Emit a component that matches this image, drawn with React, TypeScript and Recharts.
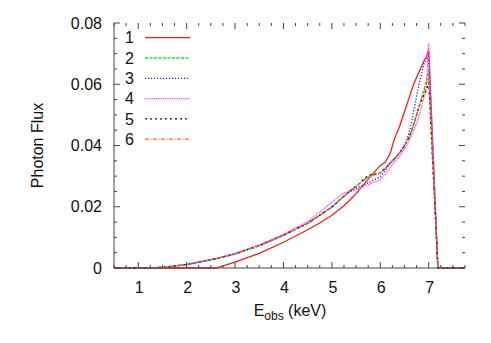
import React from "react";
import { LineChart, Line, XAxis, YAxis } from "recharts";

// photon energy (keV) and flux for six models
const energy = [0.5, 1.0, 1.5, 2.0, 2.5, 2.6, 3.0, 3.5, 4.0, 4.5, 4.75, 5.0, 5.25, 5.375, 5.5, 5.75, 6.0, 6.1, 6.2, 6.3, 6.4, 6.5, 6.6, 6.7, 6.8, 6.9, 6.95, 7.0, 7.19, 7.75];
const flux1 = [0, 0, 0, 0, 0, 0, 0.0019, 0.0048, 0.0084, 0.0125, 0.0147, 0.0172, 0.0203, 0.0222, 0.0243, 0.029, 0.0335, 0.0345, 0.0372, 0.0425, 0.0463, 0.051, 0.0558, 0.0605, 0.064, 0.0675, 0.069, 0.071, 0, 0];
const flux2 = [0, 0, 0.0002, 0.0011, 0.0027, 0.003, 0.0046, 0.0073, 0.0107, 0.0146, 0.0172, 0.0199, 0.0235, 0.0252, 0.0267, 0.0298, 0.031, 0.0325, 0.0342, 0.0358, 0.0376, 0.0399, 0.0428, 0.0473, 0.0527, 0.0582, 0.061, 0.0647, 0, 0];
const flux3 = [0, 0, 0.0002, 0.0011, 0.0027, 0.003, 0.0046, 0.0073, 0.0107, 0.0146, 0.0172, 0.0199, 0.0233, 0.0249, 0.026, 0.0278, 0.0298, 0.0318, 0.034, 0.0358, 0.0377, 0.0402, 0.0443, 0.052, 0.06, 0.0665, 0.068, 0.0695, 0, 0];
const flux4 = [0, 0, 0.0002, 0.0012, 0.0028, 0.0031, 0.0048, 0.0076, 0.011, 0.0152, 0.0182, 0.0215, 0.0245, 0.0252, 0.0256, 0.0272, 0.0288, 0.0305, 0.0327, 0.0347, 0.0366, 0.039, 0.0417, 0.0452, 0.0495, 0.0555, 0.059, 0.0735, 0, 0];
const flux5 = [0, 0, 0.0002, 0.0011, 0.0027, 0.003, 0.0046, 0.0073, 0.0107, 0.0146, 0.0172, 0.0199, 0.0235, 0.0252, 0.0267, 0.0303, 0.031, 0.0325, 0.0342, 0.0358, 0.0376, 0.0399, 0.0428, 0.0473, 0.0527, 0.0565, 0.058, 0.0605, 0, 0];
const flux6 = [0, 0, 0.0002, 0.0011, 0.0027, 0.003, 0.0046, 0.0073, 0.0107, 0.0146, 0.0172, 0.0199, 0.0235, 0.0252, 0.0267, 0.0298, 0.031, 0.0325, 0.0342, 0.0358, 0.0376, 0.0399, 0.0428, 0.0473, 0.0527, 0.0575, 0.06, 0.0635, 0, 0];

const seriesNames = ["1", "2", "3", "4", "5", "6"];
const xMajorTicks = [1, 2, 3, 4, 5, 6, 7];
const yMajorTicks = [0, 0.02, 0.04, 0.06, 0.08];

const styles = [
  { color: "#ff1a1a", dash: undefined, width: 1.3 },
  { color: "#22dd22", dash: "3 1.5", width: 1.4 },
  { color: "#1a1aff", dash: "1.2 1.8", width: 1.3 },
  { color: "#ff33ff", dash: "1 0.8", width: 1.3 },
  { color: "#111111", dash: "2 3", width: 1.3 },
  { color: "#f26a2e", dash: "4 1.5 1 1.5", width: 1.3 },
];

const allFlux = [flux1, flux2, flux3, flux4, flux5, flux6];
const data = energy.map((e, i) => {
  const row: Record<string, number> = { e };
  seriesNames.forEach((n, k) => (row["s" + n] = allFlux[k][i]));
  return row;
});

const W = 491;
const H = 343;
const M = { top: 23, right: 26, left: 0, bottom: 0 };
const Y_AXIS_W = 114;
const X_AXIS_H = 75;
const PLOT_W = W - M.right - Y_AXIS_W;
const PLOT_H = H - M.top - X_AXIS_H;

const FONT = "'Liberation Sans', Arial, Helvetica, sans-serif";
const AXIS = "#444";

const xTicks = Array.from({ length: 30 }, (_, i) => 0.5 + i * 0.25);
const yTicks = Array.from({ length: 17 }, (_, i) => Number((i * 0.005).toFixed(3)));

const isMajor = (v: number, list: number[]) => list.some((t) => Math.abs(t - v) < 1e-9);

function XTick(props: any) {
  const { x, y, payload } = props;
  const major = isMajor(payload.value, xMajorTicks);
  const len = major ? 6 : 3;
  return (
    <g>
      <line x1={x} y1={y} x2={x} y2={y - len} stroke={AXIS} />
      <line x1={x} y1={y - PLOT_H} x2={x} y2={y - PLOT_H + len} stroke={AXIS} />
      {major && (
        <text x={x + 1} y={y + 24.5} textAnchor="middle" fontSize={16} fontFamily={FONT} fill="#111">
          {payload.value}
        </text>
      )}
    </g>
  );
}

function YTick(props: any) {
  const { x, y, payload } = props;
  const major = isMajor(payload.value, yMajorTicks);
  const len = major ? 6 : 3;
  return (
    <g>
      <line x1={x} y1={y} x2={x + len} y2={y} stroke={AXIS} />
      <line x1={x + PLOT_W} y1={y} x2={x + PLOT_W - len} y2={y} stroke={AXIS} />
      {major && (
        <text x={x - 12} y={y + 5.7} textAnchor="end" fontSize={16} fontFamily={FONT} fill="#111">
          {payload.value === 0 ? "0" : payload.value.toFixed(2)}
        </text>
      )}
    </g>
  );
}

function Overlay() {
  const rowY = (i: number) => 37.7 + i * 20.3;
  return (
    <svg width={W} height={H} style={{ position: "absolute", left: 0, top: 0, pointerEvents: "none" }}>
      {seriesNames.map((n, i) => (
        <g key={n}>
          <text x={134} y={rowY(i) + 5.7} textAnchor="end" fontSize={16} fontFamily={FONT} fill="#111">
            {n}
          </text>
          <line
            x1={145}
            x2={190}
            y1={rowY(i)}
            y2={rowY(i)}
            stroke={styles[i].color}
            strokeWidth={styles[i].width}
            strokeDasharray={styles[i].dash}
          />
        </g>
      ))}
      <text x={290} y={316} textAnchor="middle" fontSize={16} fontFamily={FONT} fill="#111">
        E<tspan fontSize={12} dy={4}>obs</tspan>
        <tspan dy={-4}> (keV)</tspan>
      </text>
      <text
        transform="translate(43,145.5) rotate(-90)"
        textAnchor="middle"
        fontSize={16}
        fontFamily={FONT}
        fill="#111"
      >
        Photon Flux
      </text>
    </svg>
  );
}

export default function App() {
  return (
    <div style={{ position: "absolute", left: 0, top: 0, width: W, height: H, background: "#fff" }}>
      <LineChart width={W} height={H} data={data} margin={M}>
        <XAxis
          dataKey="e"
          type="number"
          domain={[0.5, 7.75]}
          ticks={xTicks}
          interval={0}
          tickLine={false}
          tickSize={0}
          tickMargin={0}
          height={X_AXIS_H}
          axisLine={{ stroke: AXIS }}
          tick={<XTick />}
        />
        <XAxis
          xAxisId="top"
          dataKey="e"
          type="number"
          orientation="top"
          domain={[0.5, 7.75]}
          tick={false}
          tickLine={false}
          height={0}
          axisLine={{ stroke: AXIS }}
        />
        <YAxis
          type="number"
          domain={[0, 0.08]}
          ticks={yTicks}
          interval={0}
          tickLine={false}
          tickSize={0}
          tickMargin={0}
          width={Y_AXIS_W}
          axisLine={{ stroke: AXIS }}
          tick={<YTick />}
        />
        <YAxis
          yAxisId="right"
          orientation="right"
          type="number"
          domain={[0, 0.08]}
          tick={false}
          tickLine={false}
          width={0}
          axisLine={{ stroke: AXIS }}
        />
        {seriesNames.map((n, i) => (
          <Line
            key={n}
            dataKey={"s" + n}
            type="linear"
            stroke={styles[i].color}
            strokeWidth={styles[i].width}
            strokeDasharray={styles[i].dash}
            dot={false}
            activeDot={false}
            isAnimationActive={false}
          />
        ))}
      </LineChart>
      <Overlay />
    </div>
  );
}
